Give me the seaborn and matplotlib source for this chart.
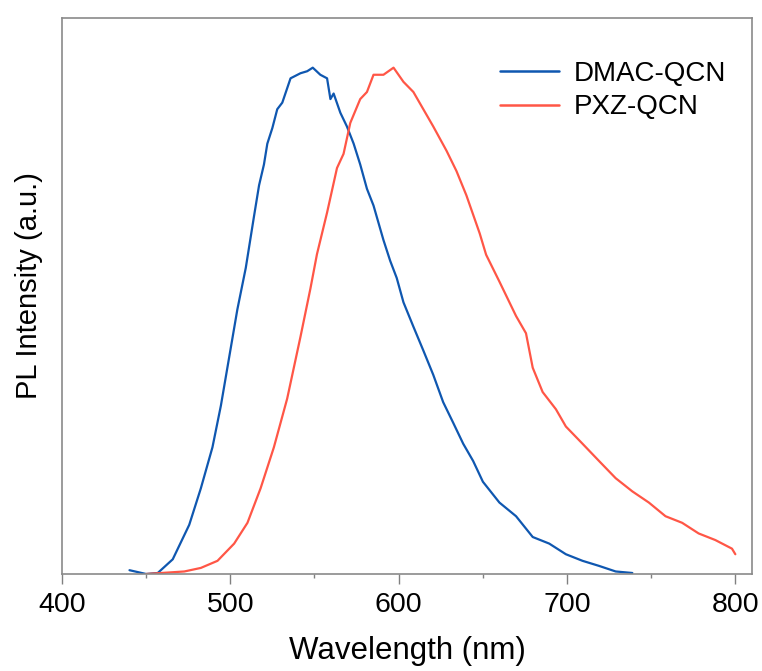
import numpy as np
import pandas as pd
import matplotlib
matplotlib.use("Agg")
import matplotlib.pyplot as plt
from matplotlib.ticker import MultipleLocator
import seaborn as sns

dmac_wl = [440.1, 450.0, 456.9, 465.8, 475.6, 482.5, 489.4, 494.4, 499.3, 504.2, 509.2, 514.1, 517.1,
           520.0, 522.0, 525.0, 527.9, 530.9, 535.8, 541.7, 545.7, 549.0, 553.5, 557.5, 559.5, 561.4,
           565.4, 569.3, 573.3, 577.2, 581.2, 585.1, 591.0, 595.0, 598.9, 602.9, 608.8, 614.7, 620.6,
           626.5, 632.5, 638.4, 644.3, 650.1, 659.9, 669.8, 679.7, 689.5, 699.4, 709.3, 719.1, 729.0, 738.9]
dmac_int = [0.0075, 0.0, 0.002, 0.029, 0.097, 0.169, 0.25, 0.332, 0.427, 0.522, 0.604, 0.706, 0.767,
            0.808, 0.849, 0.88, 0.917, 0.93, 0.978, 0.988, 0.992, 0.999, 0.985, 0.978, 0.937, 0.948,
            0.91, 0.883, 0.849, 0.808, 0.76, 0.727, 0.659, 0.618, 0.584, 0.536, 0.488, 0.441, 0.393,
            0.339, 0.298, 0.257, 0.223, 0.182, 0.141, 0.114, 0.073, 0.06, 0.039, 0.026, 0.016, 0.005, 0.002]

pxz_wl = [450.0, 472.7, 482.5, 492.4, 502.3, 510.2, 518.0, 525.9, 533.8, 541.7, 547.6, 551.5, 557.5,
          563.4, 567.3, 571.3, 577.2, 581.2, 585.1, 591.0, 597.0, 602.9, 608.8, 614.7, 620.6, 628.5,
          634.4, 640.3, 648.2, 652.0, 659.9, 669.8, 675.7, 679.7, 685.6, 693.5, 699.4, 709.3, 719.1,
          729.0, 738.9, 748.7, 758.6, 768.5, 778.3, 788.2, 798.1, 800.1]
pxz_int = [0.0, 0.005, 0.012, 0.026, 0.06, 0.101, 0.169, 0.25, 0.346, 0.468, 0.563, 0.631, 0.713,
           0.801, 0.829, 0.89, 0.937, 0.951, 0.985, 0.985, 0.999, 0.971, 0.951, 0.917, 0.883, 0.835,
           0.795, 0.747, 0.672, 0.63, 0.577, 0.509, 0.475, 0.407, 0.359, 0.325, 0.291, 0.257, 0.223,
           0.189, 0.163, 0.141, 0.114, 0.101, 0.08, 0.067, 0.05, 0.039]

series_names = ["DMAC-QCN", "PXZ-QCN"]
x_ticks = [400, 500, 600, 700, 800]

df = pd.concat([
    pd.DataFrame({"wl": dmac_wl, "I": dmac_int, "s": series_names[0]}),
    pd.DataFrame({"wl": pxz_wl, "I": pxz_int, "s": series_names[1]}),
], ignore_index=True)

sns.set_style("white")
plt.rcParams["font.family"] = ["Liberation Sans", "DejaVu Sans"]
plt.rcParams["text.color"] = "black"
plt.rcParams["axes.labelcolor"] = "black"

fig = plt.figure(figsize=(7.62, 6.71), dpi=100)
ax = fig.add_axes([62 / 762, 1 - 574 / 671, 690 / 762, 556 / 671])

sns.lineplot(data=df, x="wl", y="I", hue="s", palette={"DMAC-QCN": "#0f57b0", "PXZ-QCN": "#ff5646"},
             linewidth=1.6, ax=ax, sort=False, estimator=None)

ax.set_xlim(400, 810)
ax.set_ylim(0, 1.097)
ax.set_xticks(x_ticks)
ax.xaxis.set_minor_locator(MultipleLocator(50))
ax.set_yticks([])
ax.tick_params(axis="x", which="major", direction="out", length=7, width=1, color="#808080",
               labelcolor="black", labelsize=20.5, pad=6, bottom=True)
ax.tick_params(axis="x", which="minor", direction="out", length=3, width=1, color="#808080", bottom=True)
for sp in ax.spines.values():
    sp.set_color("#8a8a8a")
    sp.set_linewidth(1.2)

ax.set_xlabel("Wavelength (nm)", fontsize=22.5, labelpad=13)
ax.set_ylabel("PL Intensity (a.u.)", fontsize=21)
ax.yaxis.set_label_coords(-0.028, (574 - 285.5) / 556)

leg = ax.legend(loc="upper left", bbox_to_anchor=(0.635, 0.923), frameon=False, fontsize=20,
                handlelength=2.12, handletextpad=0.54, labelspacing=0.27, borderpad=0, borderaxespad=0)
for line in leg.get_lines():
    line.set_linewidth(1.8)

fig.savefig("out.png", dpi=100)
